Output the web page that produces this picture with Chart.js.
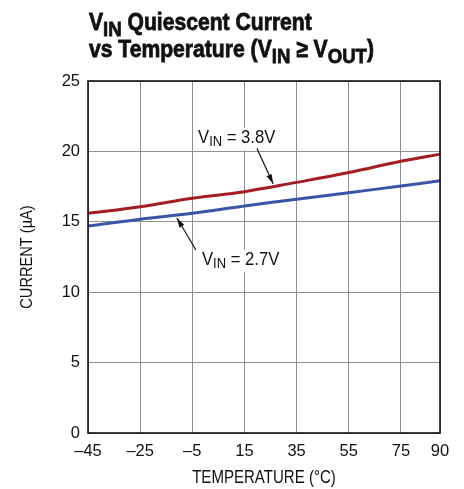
<!DOCTYPE html>
<html>
<head>
<meta charset="utf-8">
<script src="https://cdn.jsdelivr.net/npm/chart.js@4"></script>
<style>
  html, body { margin: 0; padding: 0; background: #fff; }
  #wrap { width: 464px; height: 489px; }
</style>
</head>
<body>
<div id="wrap"><canvas id="currentChart" width="464" height="489"></canvas></div>
<script>
// Data
const temps = [-45, -25, -5, 15, 35, 55, 75, 90];
const vin38 = [15.6, 16.07, 16.67, 17.14, 17.8, 18.5, 19.3, 19.8];
const vin27 = [14.7, 15.18, 15.6, 16.12, 16.6, 17.07, 17.54, 17.92];
const xTicks = [-45, -25, -5, 15, 35, 55, 75, 90];
const yTicks = [0, 5, 10, 15, 20, 25];

const FONT = '"Liberation Sans", Arial, sans-serif';

// label + arrow positions, in data units
const notes = [
    { rest: ' = 3.8V', tx: -2.8, ty: 20.6, from: [19.8, 20.2], to: [26, 17.7] },
    { rest: ' = 2.7V', tx: -1.3, ty: 11.95, from: [-3.6, 13.0], to: [-10.9, 15.27] }
];

function toPoints(ys) {
    return temps.map((t, i) => ({ x: t, y: ys[i] }));
}

// text with subscripts, squeezed horizontally by sx (condensed look)
function partsWidth(ctx, parts, size, bold, subScale) {
    let w = 0;
    parts.forEach(p => {
        ctx.font = (bold ? 'bold ' : '') + (p.sub ? size * subScale : size) + 'px ' + FONT;
        w += ctx.measureText(p.t).width;
    });
    return w;
}

function drawParts(ctx, parts, x, y, size, opt) {
    const bold = opt.bold, sx = opt.sx || 1, subScale = opt.subScale || 0.78, subDy = opt.subDy || 3;
    const w = partsWidth(ctx, parts, size, bold, subScale);
    ctx.save();
    ctx.translate(x, y);
    if (opt.rotate) ctx.rotate(opt.rotate);
    ctx.scale(sx, 1);
    let cx = opt.center ? -w / 2 : 0;
    parts.forEach(p => {
        ctx.font = (bold ? 'bold ' : '') + (p.sub ? size * subScale : size) + 'px ' + FONT;
        ctx.fillText(p.t, cx, p.sub ? subDy : 0);
        if (bold && opt.heavy) ctx.strokeText(p.t, cx, p.sub ? subDy : 0);
        cx += ctx.measureText(p.t).width;
    });
    ctx.restore();
    return w * sx;
}

const decorPlugin = {
    id: 'decor',
    afterDraw(chart) {
        const ctx = chart.ctx;
        const xs = chart.scales.x, ys = chart.scales.y;
        const ca = chart.chartArea;
        ctx.save();
        ctx.fillStyle = '#111';
        ctx.strokeStyle = '#111';
        ctx.lineWidth = 0.8;
        ctx.textBaseline = 'alphabetic';
        ctx.textAlign = 'left';

        // title
        const tOpt = { bold: true, heavy: true, sx: 0.88, subScale: 0.88, subDy: 6 };
        drawParts(ctx, [{ t: 'V' }, { t: 'IN', sub: true }, { t: ' Quiescent Current' }], ca.left + 1, 30, 24, tOpt);
        drawParts(ctx, [{ t: 'vs Temperature (V' }, { t: 'IN', sub: true }, { t: ' \u2265 V' }, { t: 'OUT', sub: true }, { t: ')' }], ca.left + 1, 57, 24, tOpt);

        // axis titles
        drawParts(ctx, [{ t: 'TEMPERATURE (\u00b0C)' }], (ca.left + ca.right) / 2, 483, 17.5, { sx: 0.86, center: true });
        drawParts(ctx, [{ t: 'CURRENT (\u00b5A)' }], 32, (ca.top + ca.bottom) / 2, 17, { sx: 0.86, center: true, rotate: -Math.PI / 2 });

        // annotations
        notes.forEach(n => {
            const x = xs.getPixelForValue(n.tx);
            const y = ys.getPixelForValue(n.ty);
            const parts = [{ t: 'V' }, { t: 'IN', sub: true }, { t: n.rest }];
            const aOpt = { sx: 0.9, subScale: 0.78, subDy: 3 };
            const w = partsWidth(ctx, parts, 18.5, false, 0.78) * 0.9;
            ctx.fillStyle = '#fff';
            ctx.fillRect(x - 2, y - 15, w + 4, 22);
            ctx.fillStyle = '#111';
            drawParts(ctx, parts, x, y, 18.5, aOpt);

            const x0 = xs.getPixelForValue(n.from[0]), y0 = ys.getPixelForValue(n.from[1]);
            const x1 = xs.getPixelForValue(n.to[0]), y1 = ys.getPixelForValue(n.to[1]);
            ctx.lineWidth = 1.2;
            ctx.beginPath();
            ctx.moveTo(x0, y0);
            ctx.lineTo(x1, y1);
            ctx.stroke();
            const a = Math.atan2(y1 - y0, x1 - x0);
            const L = 10, h = 0.28;
            ctx.beginPath();
            ctx.moveTo(x1, y1);
            ctx.lineTo(x1 - L * Math.cos(a - h), y1 - L * Math.sin(a - h));
            ctx.lineTo(x1 - L * Math.cos(a + h), y1 - L * Math.sin(a + h));
            ctx.closePath();
            ctx.fill();
        });

        // frame
        ctx.lineWidth = 1.6;
        ctx.strokeRect(ca.left, ca.top, ca.right - ca.left, ca.bottom - ca.top);
        ctx.restore();
    }
};

new Chart(document.getElementById('currentChart'), {
    type: 'line',
    data: {
        datasets: [
            { label: 'VIN = 3.8V', data: toPoints(vin38), borderColor: '#a51d24', borderWidth: 3, pointRadius: 0, tension: 0.4, fill: false },
            { label: 'VIN = 2.7V', data: toPoints(vin27), borderColor: '#3a55a8', borderWidth: 3, pointRadius: 0, tension: 0.4, fill: false }
        ]
    },
    options: {
        responsive: false,
        animation: false,
        layout: { padding: { top: 81, right: 24, left: 0, bottom: 0 } },
        plugins: { legend: { display: false }, tooltip: { enabled: false }, title: { display: false } },
        scales: {
            x: {
                type: 'linear',
                min: -45,
                max: 90,
                afterBuildTicks: (s) => { s.ticks = xTicks.map(v => ({ value: v })); },
                afterFit: (s) => { s.height = 56; },
                grid: { color: '#909090', lineWidth: 1, drawTicks: false },
                border: { display: false },
                ticks: {
                    color: '#111',
                    font: { family: FONT, size: 16.5 },
                    padding: 9,
                    maxRotation: 0,
                    callback: (v) => String(v).replace('-', '\u2013')
                }
            },
            y: {
                min: 0,
                max: 25,
                afterBuildTicks: (s) => { s.ticks = yTicks.map(v => ({ value: v })); },
                afterFit: (s) => { s.width = 88; },
                grid: { color: '#909090', lineWidth: 1, drawTicks: false },
                border: { display: false },
                ticks: { color: '#111', font: { family: FONT, size: 16.5 }, padding: 8 }
            }
        }
    },
    plugins: [decorPlugin]
});
</script>
</body>
</html>
